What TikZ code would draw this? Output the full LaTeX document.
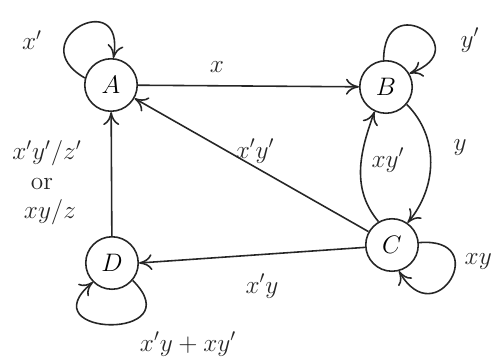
\documentclass[tikz,border=0pt]{standalone}
\usepackage{amsmath}
\usepackage{tikz}
\usetikzlibrary{arrows.meta, positioning}

\begin{document}
\begin{tikzpicture}[
  x=0.02cm, y=-0.02cm,
  state/.style={circle, draw=black!85, line width=0.9pt, minimum size=1.05cm,
    inner sep=0pt, font=\Large},
  arrow/.style={-{To[length=2.6mm, width=3.2mm]}, line width=0.9pt, black!85},
  elabel/.style={font=\Large, text=black!85}
]
\useasboundingbox (0,0) rectangle (498,360);

% States
\node[state] (A) at (111,85)  {$A$};
\node[state] (B) at (386,87)  {$B$};
\node[state] (C) at (392,245) {$C$};
\node[state] (D) at (112,263) {$D$};

% Self loops
\draw[arrow] (A.165) to[out=150, in=80, looseness=5.5] (A.85);
\draw[arrow] (B.95) to[out=90, in=20, looseness=6.5] (B.30);
\draw[arrow] (C.5) to[out=5, in=-60, looseness=5.5] (C.-75);
\draw[arrow] (D.-40) to[out=-45, in=-140, looseness=5.5] (D.-135);

% Transitions
\draw[arrow] (A) -- (B);
\draw[arrow] (B.-40) to[out=-45, in=50] (C.55);
\draw[arrow] (C.120) to[out=130, in=-110] (B.-115);
\draw[arrow] (C) -- (A);
\draw[arrow] (C.185) -- (D.east);
\draw[arrow] (D) -- (A);

% Labels
\node[elabel] (lA)  at (32,40)   {$x'$};
\node[elabel] (lAB) at (217,67)  {$x$};
\node[elabel] (lB)  at (470,40)  {$y'$};
\node[elabel] (lBC) at (460,148) {$y$};
\node[elabel] (lCB) at (388,160) {$xy'$};
\node[elabel] (lCA) at (255,151) {$x'y'$};
\node[elabel] (lCD) at (262,286) {$x'y$};
\node[elabel] (lD1) at (47,153)  {$x'y'/z'$};
\node[elabel] (lD2) at (42,184)  {$\mathrm{or}$};
\node[elabel] (lD3) at (50,212)  {$xy/z$};
\node[elabel] (lD)  at (188,344) {$x'y+xy'$};
\node[elabel, anchor=east] (lC) at (498,262) {$xy$};

\end{tikzpicture}
\end{document}
